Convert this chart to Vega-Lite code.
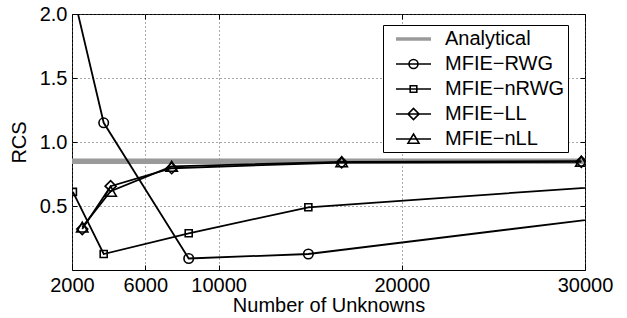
{
  "$schema": "https://vega.github.io/schema/vega-lite/v6.json",
  "width": 513,
  "height": 256,
  "autosize": {"type": "none"},
  "padding": {"left": 72, "top": 14, "right": 42, "bottom": 48},
  "background": "white",
  "config": {
    "view": {"stroke": "black", "strokeWidth": 1},
    "font": "Liberation Sans",
    "axis": {
      "labelFont": "Liberation Sans",
      "titleFont": "Liberation Sans",
      "labelFontSize": 20,
      "titleFontSize": 20,
      "titleFontWeight": "normal",
      "labelColor": "black",
      "titleColor": "black",
      "labelFlush": false,
      "domain": false,
      "tickColor": "black",
      "tickSize": -5,
      "gridColor": "#555",
      "gridDash": [1, 3],
      "gridWidth": 1
    },
    "legend": {
      "labelFont": "Liberation Sans",
      "labelFontSize": 20,
      "labelColor": "black",
      "orient": "none",
      "legendX": 311,
      "legendY": 11,
      "strokeColor": "black",
      "fillColor": "white",
      "padding": 3,
      "rowPadding": 4,
      "symbolSize": 400,
      "symbolStrokeWidth": 1.6,
      "symbolOffset": 16.5,
      "labelOffset": 20.5,
      "symbolFillColor": "transparent",
      "symbolOpacity": 1
    }
  },
  "data": {
    "values": [
      {"series": "Analytical", "n": 2000, "rcs": 0.85},
      {"series": "Analytical", "n": 30000, "rcs": 0.85},
      {"series": "MFIE−RWG", "n": 2000, "rcs": 2.2},
      {"series": "MFIE−RWG", "n": 3730, "rcs": 1.15},
      {"series": "MFIE−RWG", "n": 8370, "rcs": 0.09},
      {"series": "MFIE−RWG", "n": 14900, "rcs": 0.125},
      {"series": "MFIE−RWG", "n": 40000, "rcs": 0.566},
      {"series": "MFIE−nRWG", "n": 2050, "rcs": 0.61},
      {"series": "MFIE−nRWG", "n": 3730, "rcs": 0.125},
      {"series": "MFIE−nRWG", "n": 8370, "rcs": 0.287},
      {"series": "MFIE−nRWG", "n": 14900, "rcs": 0.49},
      {"series": "MFIE−nRWG", "n": 40000, "rcs": 0.743},
      {"series": "MFIE−LL", "n": 2560, "rcs": 0.32},
      {"series": "MFIE−LL", "n": 4110, "rcs": 0.655},
      {"series": "MFIE−LL", "n": 7440, "rcs": 0.795},
      {"series": "MFIE−LL", "n": 16720, "rcs": 0.84},
      {"series": "MFIE−LL", "n": 29800, "rcs": 0.845},
      {"series": "MFIE−nLL", "n": 2560, "rcs": 0.335},
      {"series": "MFIE−nLL", "n": 4110, "rcs": 0.615},
      {"series": "MFIE−nLL", "n": 7440, "rcs": 0.81},
      {"series": "MFIE−nLL", "n": 16720, "rcs": 0.845},
      {"series": "MFIE−nLL", "n": 29800, "rcs": 0.85}
    ]
  },
  "resolve": {
    "axis": {"x": "independent", "y": "independent"}
  },
  "layer": [
    {
      "transform": [{"filter": {"field": "series", "equal": "Analytical"}}],
      "mark": {"type": "line", "color": "#9a9a9a", "strokeWidth": 5.5, "clip": true},
      "encoding": {
        "x": {"field": "n", "type": "quantitative",
          "scale": {"domain": [2000, 30000], "nice": false, "zero": false},
          "axis": {"values": [2000, 6000, 10000, 20000, 30000], "format": "d", "grid": true,
            "title": "Number of Unknowns", "labelPadding": 10, "titlePadding": 0}},
        "y": {"field": "rcs", "type": "quantitative",
          "scale": {"domain": [0, 2], "nice": false, "zero": false},
          "axis": {"values": [0.5, 1, 1.5, 2], "format": ".1f", "grid": true,
            "title": "RCS", "labelPadding": 10, "titlePadding": 10}}
      }
    },
    {
      "transform": [{"filter": {"field": "series", "oneOf": ["MFIE−RWG", "MFIE−nRWG", "MFIE−LL", "MFIE−nLL"]}}],
      "mark": {"type": "line", "color": "black", "strokeWidth": 1.8, "clip": true},
      "encoding": {
        "x": {"field": "n", "type": "quantitative",
          "scale": {"domain": [2000, 30000], "nice": false, "zero": false},
          "axis": {"orient": "top", "values": [2000, 6000, 10000, 20000, 30000], "labels": false, "grid": false, "title": null}},
        "y": {"field": "rcs", "type": "quantitative",
          "scale": {"domain": [0, 2], "nice": false, "zero": false},
          "axis": {"orient": "right", "values": [0.5, 1, 1.5, 2], "labels": false, "grid": false, "title": null}},
        "detail": {"field": "series"}
      }
    },
    {
      "transform": [{"filter": {"field": "series", "equal": "MFIE−RWG"}}],
      "mark": {"type": "point", "shape": "circle", "size": 90, "filled": false, "stroke": "black", "strokeWidth": 1.6, "clip": true, "opacity": 1},
      "encoding": {
        "x": {"field": "n", "type": "quantitative", "axis": null},
        "y": {"field": "rcs", "type": "quantitative", "axis": null}
      }
    },
    {
      "transform": [{"filter": {"field": "series", "equal": "MFIE−nRWG"}}],
      "mark": {"type": "point", "shape": "square", "size": 49, "filled": false, "stroke": "black", "strokeWidth": 1.6, "clip": true, "opacity": 1},
      "encoding": {
        "x": {"field": "n", "type": "quantitative", "axis": null},
        "y": {"field": "rcs", "type": "quantitative", "axis": null}
      }
    },
    {
      "transform": [{"filter": {"field": "series", "equal": "MFIE−LL"}}],
      "mark": {"type": "point", "shape": "diamond", "size": 121, "filled": false, "stroke": "black", "strokeWidth": 1.6, "clip": true, "opacity": 1},
      "encoding": {
        "x": {"field": "n", "type": "quantitative", "axis": null},
        "y": {"field": "rcs", "type": "quantitative", "axis": null}
      }
    },
    {
      "transform": [{"filter": {"field": "series", "equal": "MFIE−nLL"}}],
      "mark": {"type": "point", "shape": "triangle-up", "size": 130, "filled": false, "stroke": "black", "strokeWidth": 1.6, "clip": true, "opacity": 1},
      "encoding": {
        "x": {"field": "n", "type": "quantitative", "axis": null},
        "y": {"field": "rcs", "type": "quantitative", "axis": null}
      }
    },
    {
      "transform": [{"filter": {"field": "series", "equal": "__none__"}}],
      "mark": {"type": "point", "filled": false, "opacity": 1, "strokeWidth": 1.6},
      "encoding": {
        "shape": {"field": "series", "type": "nominal",
          "scale": {"domain": ["Analytical", "MFIE−RWG", "MFIE−nRWG", "MFIE−LL", "MFIE−nLL"],
            "range": [
              "M-1.75,-0.1H1.75M-1.75,0H1.75M-1.75,0.1H1.75",
              "M-1.75,0H1.75M-0.45,0A0.45,0.45 0 1,0 0.45,0A0.45,0.45 0 1,0 -0.45,0",
              "M-1.75,0H1.75M-0.33,-0.33H0.33V0.33H-0.33Z",
              "M-1.75,0H1.75M-0.55,0L0,-0.55L0.55,0L0,0.55Z",
              "M-1.75,0H1.75M0,-0.5L0.55,0.42H-0.55Z"
            ]},
          "legend": {"title": null}
        },
        "stroke": {"field": "series", "type": "nominal",
          "scale": {"domain": ["Analytical", "MFIE−RWG", "MFIE−nRWG", "MFIE−LL", "MFIE−nLL"],
            "range": ["#9a9a9a", "black", "black", "black", "black"]},
          "legend": {"title": null}}
      }
    }
  ]
}
